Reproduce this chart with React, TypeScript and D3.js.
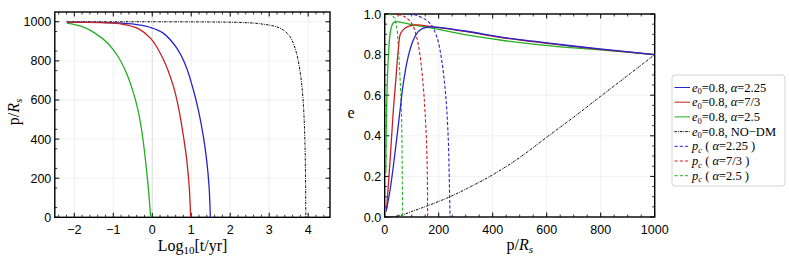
import React from "react";
import * as d3 from "d3";

type Pt = [number, number];

// tick labels
const leftXTicks = [-2, -1, 0, 1, 2, 3, 4];
const leftYTicks = [0, 200, 400, 600, 800, 1000];
const rightXTicks = [0, 200, 400, 600, 800, 1000];
const rightYTicks = [0, 0.2, 0.4, 0.6, 0.8, 1.0];

// left panel: p/Rs vs log10(t/yr)
const evoBlue: Pt[] = [
  [-2.19, 998], [-1.5, 997], [-0.78, 993], [-0.3, 983], [-0.06, 972], [0.28, 942], [0.63, 865],
  [0.86, 775], [1.05, 655], [1.19, 542], [1.31, 415], [1.4, 285], [1.46, 150], [1.49, 0],
];
const evoRed: Pt[] = [
  [-2.19, 998], [-1.21, 995], [-0.78, 988], [-0.36, 965], [-0.04, 915], [0.28, 810],
  [0.54, 672], [0.68, 555], [0.8, 415], [0.89, 285], [0.95, 150], [0.985, 0],
];
const evoGreen: Pt[] = [
  [-2.19, 993], [-1.81, 976], [-1.47, 942], [-1.13, 888], [-0.87, 820], [-0.66, 737],
  [-0.5, 648], [-0.37, 552], [-0.26, 430], [-0.17, 285], [-0.1, 148], [-0.04, 0],
];
const evoNoDM: Pt[] = [
  [-2.2, 1000], [1.5, 999], [2.3, 996], [2.76, 990], [3.27, 968], [3.53, 925], [3.7, 840],
  [3.81, 720], [3.87, 600], [3.91, 430], [3.93, 250], [3.94, 0],
];

// right panel: e vs p/Rs
const eccBlue: Pt[] = [
  [5, 0.026], [20, 0.133], [38, 0.314], [57, 0.527], [69, 0.659], [87, 0.79],
  [106, 0.872], [124, 0.913], [143, 0.93], [161, 0.936], [200, 0.934], [304, 0.915],
  [427, 0.887], [550, 0.866], [674, 0.846], [797, 0.828], [1000, 0.8],
];
const eccRed: Pt[] = [
  [7, 0.04], [20, 0.28], [32, 0.527], [42, 0.69], [50, 0.82], [59, 0.905],
  [75, 0.93], [94, 0.941], [118, 0.946], [180, 0.937], [304, 0.913], [427, 0.885],
  [550, 0.864], [674, 0.844], [797, 0.826], [1000, 0.8],
];
const eccGreen: Pt[] = [
  [4, 0.215], [7, 0.527], [13, 0.773], [22, 0.92], [32, 0.957], [44, 0.962],
  [57, 0.96], [106, 0.946], [180, 0.929], [304, 0.897], [427, 0.872], [550, 0.852],
  [674, 0.836], [797, 0.823], [1000, 0.8],
];
const eccNoDM: Pt[] = [
  [20, 0], [60, 0.008], [100, 0.027], [160, 0.056], [230, 0.093], [300, 0.137],
  [400, 0.208], [500, 0.293], [600, 0.393], [700, 0.492], [800, 0.595], [900, 0.697],
  [1000, 0.8],
];
const pcBlue: Pt[] = [
  [70, 1.0], [100, 0.998], [131, 0.987], [168, 0.954], [193, 0.888], [211, 0.773],
  [223, 0.642], [230, 0.527], [236, 0.363], [239, 0.199], [242, 0],
];
const pcRed: Pt[] = [
  [30, 1.0], [69, 0.99], [100, 0.954], [121, 0.872], [133, 0.773], [143, 0.642],
  [149, 0.527], [155, 0.363], [158, 0.199], [159, 0],
];
const pcGreen: Pt[] = [
  [12, 1.0], [32, 0.987], [44, 0.937], [50, 0.855], [54, 0.757], [59, 0.626],
  [62, 0.527], [64, 0.363], [65, 0.199], [67, 0],
];

const BLUE = "#2424cc";
const RED = "#c42020";
const GREEN = "#20b020";
const DASH = "3.2,2";
const DOTDASH = "2.4,1.1,0.8,1.1";

const tickFont = "'Liberation Sans', Arial, sans-serif";
const serif = "'Liberation Serif', 'Times New Roman', serif";

function Frame({ x, y, xTicks, yTicks, xMinor, yMinor, fmtX, fmtY, zeroLine }: any) {
  const [x0, x1] = x.range();
  const [y0, y1] = y.range(); // y0 bottom, y1 top
  return (
    <g>
      {xTicks.map((t: number) => (
        <line key={"gx" + t} x1={x(t)} x2={x(t)} y1={y0} y2={y1}
          stroke={zeroLine && t === 0 ? "#d0d0d0" : "#ececec"} strokeWidth={0.8} />
      ))}
      {yTicks.map((t: number) => (
        <line key={"gy" + t} x1={x0} x2={x1} y1={y(t)} y2={y(t)} stroke="#ececec" strokeWidth={0.8} />
      ))}
      {xMinor.map((t: number) => (
        <g key={"mx" + t}>
          <line x1={x(t)} x2={x(t)} y1={y0} y2={y0 - 2.5} stroke="#000" strokeWidth={0.8} />
          <line x1={x(t)} x2={x(t)} y1={y1} y2={y1 + 2.5} stroke="#000" strokeWidth={0.8} />
        </g>
      ))}
      {yMinor.map((t: number) => (
        <g key={"my" + t}>
          <line x1={x0} x2={x0 + 2.5} y1={y(t)} y2={y(t)} stroke="#000" strokeWidth={0.8} />
          <line x1={x1} x2={x1 - 2.5} y1={y(t)} y2={y(t)} stroke="#000" strokeWidth={0.8} />
        </g>
      ))}
      {xTicks.map((t: number) => (
        <g key={"tx" + t}>
          <line x1={x(t)} x2={x(t)} y1={y0} y2={y0 - 4.5} stroke="#000" strokeWidth={1} />
          <line x1={x(t)} x2={x(t)} y1={y1} y2={y1 + 4.5} stroke="#000" strokeWidth={1} />
          <text x={x(t)} y={234} textAnchor="middle" fontFamily={tickFont} fontSize={12.5}>{fmtX(t)}</text>
        </g>
      ))}
      {yTicks.map((t: number) => (
        <g key={"ty" + t}>
          <line x1={x0} x2={x0 + 4.5} y1={y(t)} y2={y(t)} stroke="#000" strokeWidth={1} />
          <line x1={x1} x2={x1 - 4.5} y1={y(t)} y2={y(t)} stroke="#000" strokeWidth={1} />
          <text x={x0 - 3.5} y={y(t)} dy="0.36em" textAnchor="end" fontFamily={tickFont} fontSize={12.5}>{fmtY(t)}</text>
        </g>
      ))}
      <rect x={x0} y={y1} width={x1 - x0} height={y0 - y1} fill="none" stroke="#000" strokeWidth={1.4} />
    </g>
  );
}

export default function App() {
  // left panel scales
  const xL = d3.scaleLinear().domain([-2.5, 4.56]).range([54.8, 330]);
  const yL = d3.scaleLinear().domain([0, 1050]).range([217.3, 12]);
  // right panel scales
  const xR = d3.scaleLinear().domain([0, 1000]).range([384.7, 654.7]);
  const yR = d3.scaleLinear().domain([0, 1]).range([217, 14]);

  const curve = d3.curveCatmullRom.alpha(0.5);
  const lineL = d3.line<Pt>().x((d) => xL(d[0])).y((d) => yL(d[1])).curve(curve);
  const lineR = d3.line<Pt>().x((d) => xR(d[0])).y((d) => yR(d[1])).curve(curve);

  const leftXMinor = d3.range(-2.4, 4.5, 0.2).filter((v) => Math.abs(v - Math.round(v)) > 0.01);
  const leftYMinor = d3.range(50, 1050, 100);
  const rightXMinor = d3.range(50, 1000, 50).filter((v) => v % 200 !== 0);
  const rightYMinor = d3.range(0.05, 1, 0.05).filter((v) => Math.abs(v * 5 - Math.round(v * 5)) > 0.01);

  const e0 = (
    <>
      <tspan fontStyle="italic">e</tspan>
      <tspan fontSize={8.5} dy={2.5}>0</tspan>
      <tspan dy={-2.5}>=0.8, </tspan>
    </>
  );
  const pc = (
    <>
      <tspan fontStyle="italic">p</tspan>
      <tspan fontSize={8.5} dy={2.5} fontStyle="italic">c</tspan>
      <tspan dy={-2.5}> ( </tspan>
      <tspan fontStyle="italic">α</tspan>
    </>
  );
  const legendRows = [
    { color: BLUE, dash: null, label: <>{e0}<tspan fontStyle="italic">α</tspan>=2.25</> },
    { color: RED, dash: null, label: <>{e0}<tspan fontStyle="italic">α</tspan>=7/3</> },
    { color: GREEN, dash: null, label: <>{e0}<tspan fontStyle="italic">α</tspan>=2.5</> },
    { color: "#000", dash: DOTDASH, label: <>{e0}NO−DM</> },
    { color: BLUE, dash: DASH, label: <>{pc}=2.25 )</> },
    { color: RED, dash: DASH, label: <>{pc}=7/3 )</> },
    { color: GREEN, dash: DASH, label: <>{pc}=2.5 )</> },
  ];

  return (
    <svg width={789} height={275} style={{ position: "absolute", left: 0, top: 0, background: "#fff" }}>
      <defs>
        <clipPath id="clipL"><rect x={54.8} y={12} width={275.2} height={206} /></clipPath>
        <clipPath id="clipR"><rect x={384.7} y={14} width={270} height={203.5} /></clipPath>
      </defs>

      {/* left panel */}
      <Frame x={xL} y={yL} xTicks={leftXTicks} yTicks={leftYTicks} xMinor={leftXMinor} yMinor={leftYMinor}
        fmtX={(t: number) => (t < 0 ? "−" + Math.abs(t) : String(t))} fmtY={(t: number) => String(t)} zeroLine />
      <g clipPath="url(#clipL)" fill="none">
        <path d={lineL(evoNoDM) || ""} stroke="#000" strokeWidth={1} strokeDasharray={DOTDASH} />
        <path d={lineL(evoGreen) || ""} stroke={GREEN} strokeWidth={1.3} />
        <path d={lineL(evoBlue) || ""} stroke={BLUE} strokeWidth={1.3} />
        <path d={lineL(evoRed) || ""} stroke={RED} strokeWidth={1.3} />
      </g>
      <text x={192.5} y={251} textAnchor="middle" fontFamily={serif} fontSize={16}>
        Log<tspan fontSize={11} dy={3}>10</tspan><tspan dy={-3}>[t/yr]</tspan>
      </text>
      <text transform="translate(19,112) rotate(-90)" textAnchor="middle" fontFamily={serif} fontSize={16}>
        p/<tspan fontStyle="italic">R</tspan><tspan fontSize={11} dy={3} fontStyle="italic">s</tspan>
      </text>

      {/* right panel */}
      <Frame x={xR} y={yR} xTicks={rightXTicks} yTicks={rightYTicks} xMinor={rightXMinor} yMinor={rightYMinor}
        fmtX={(t: number) => String(t)} fmtY={(t: number) => t.toFixed(1)} />
      <g clipPath="url(#clipR)" fill="none">
        <path d={lineR(eccNoDM) || ""} stroke="#000" strokeWidth={1} strokeDasharray={DOTDASH} />
        <path d={lineR(pcBlue) || ""} stroke={BLUE} strokeWidth={1.1} strokeDasharray={DASH} />
        <path d={lineR(pcRed) || ""} stroke={RED} strokeWidth={1.1} strokeDasharray={DASH} />
        <path d={lineR(pcGreen) || ""} stroke={GREEN} strokeWidth={1.1} strokeDasharray={DASH} />
        <path d={lineR(eccGreen) || ""} stroke={GREEN} strokeWidth={1.3} />
        <path d={lineR(eccRed) || ""} stroke={RED} strokeWidth={1.3} />
        <path d={lineR(eccBlue) || ""} stroke={BLUE} strokeWidth={1.3} />
      </g>
      <text x={519.7} y={250} textAnchor="middle" fontFamily={serif} fontSize={16}>
        p/<tspan fontStyle="italic">R</tspan><tspan fontSize={11} dy={3} fontStyle="italic">s</tspan>
      </text>
      <text x={351} y={118} textAnchor="middle" fontFamily={serif} fontSize={16}>e</text>

      {/* legend */}
      <rect x={672} y={75} width={113} height={111} rx={3} fill="#fff" stroke="#c8c8c8" strokeWidth={0.8} />
      {legendRows.map((r, i) => {
        const yy = 87.5 + i * 14.7;
        return (
          <g key={i}>
            <line x1={674.5} x2={690} y1={yy} y2={yy} stroke={r.color} strokeWidth={1}
              strokeDasharray={r.dash || undefined} />
            <text x={692} y={yy} dy="0.33em" fontFamily={serif} fontSize={12.5}>{r.label}</text>
          </g>
        );
      })}
    </svg>
  );
}
